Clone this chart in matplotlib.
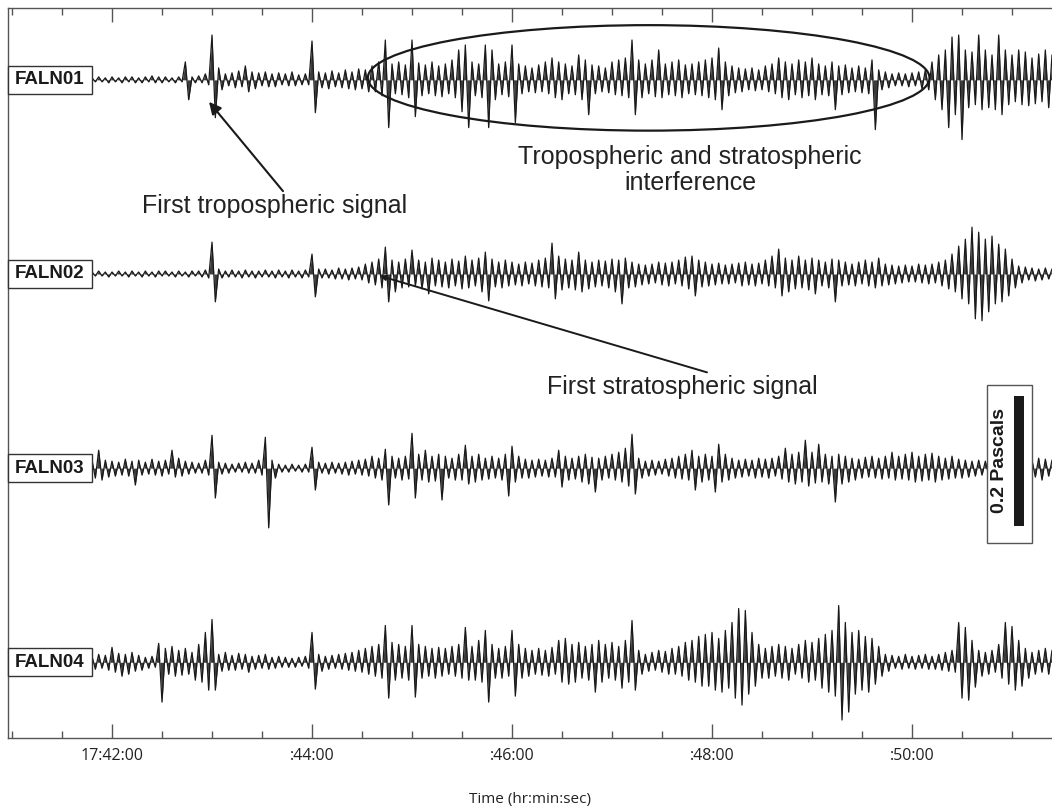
import numpy as np
import matplotlib
matplotlib.use('Agg')
import matplotlib.pyplot as plt
from matplotlib.patches import Rectangle, Ellipse
from matplotlib.ticker import MultipleLocator, FixedLocator, FixedFormatter
from matplotlib.transforms import blended_transform_factory
############################################
plt.rcParams['font.family'] = ['Liberation Sans', 'DejaVu Sans']
TRACE_COLOR = '#1a1a1a'
AXIS_COLOR = '#555555'
############################################

# time axis: seconds after 17:42:00, one peak sample every 4 s
T_START = -12
T_STEP = 4
X_MIN, X_MAX = -62.4, 564
TICK_SECONDS = [0, 120, 240, 360, 480]
TICK_LABELS = ['17:42:00', ':44:00', ':46:00', ':48:00', ':50:00']

# calibration: 130 counts = 0.2 Pa
PA_PER_COUNT = 0.2 / 130
STATIONS = ['FALN01', 'FALN02', 'FALN03', 'FALN04']
OFFSETS = [0.0, -0.3, -0.6, -0.9]   # Pa

# peak excursions (counts) above / below the trace baseline
faln01_up = [2, 3, 2, 3, 2, 3, 3, 2, 3, 4, 3, 3, 2, 3,
             18, 3, 4, 6, 45,
             12, 6, 7, 9, 14, 8, 7, 8, 6, 7, 6, 8, 5, 6,
             39,
             8, 7, 9, 7, 10, 8, 11, 10, 14, 18,
             40, 16, 18, 15, 40, 17, 15, 18, 14, 16, 20,
             30, 35, 18, 16, 35, 30, 16, 18, 35, 16, 14,
             12, 15, 18, 22, 18, 16, 14, 25, 20, 15, 14,
             12, 18, 20, 22, 40, 20, 16, 20, 30, 16, 18,
             20, 15, 16, 18, 20, 22, 32, 18, 14, 12, 11,
             12, 10, 14, 16, 22, 18, 16, 20, 18, 22, 16,
             14, 18, 14, 15, 12, 14, 12, 20, 10, 8, 6,
             7, 6, 7, 8, 10, 18, 25, 30, 43, 45, 30,
             28, 45, 30, 25, 45, 30, 25, 30, 28, 22, 26, 30, 25]
faln01_dn = [2, 2, 3, 2, 3, 2, 3, 3, 2, 3, 3, 2, 3, 2,
             20, 3, 3, 5, 38,
             10, 6, 8, 7, 12, 9, 6, 7, 7, 5, 6, 6, 5, 5,
             33,
             8, 9, 7, 8, 9, 10, 9, 12, 12, 16,
             48, 14, 15, 18, 37, 16, 14, 16, 17, 14, 18,
             32, 48, 16, 18, 48, 20, 15, 17, 43, 14, 12,
             13, 12, 14, 18, 20, 14, 15, 20, 35, 14, 12,
             13, 15, 16, 18, 35, 18, 14, 17, 18, 15, 16,
             18, 14, 15, 16, 18, 20, 30, 16, 13, 12, 10,
             11, 10, 12, 14, 18, 20, 15, 18, 16, 20, 15,
             16, 30, 15, 13, 12, 13, 14, 50, 10, 8, 6,
             6, 7, 6, 9, 10, 20, 30, 48, 35, 60, 28,
             25, 30, 28, 30, 35, 25, 22, 25, 26, 24, 22, 28, 20]

faln02_up = [2, 3, 2, 2, 3, 2, 3, 2, 3, 2, 3, 3, 2, 3, 2, 3, 3,
             4, 32, 5,
             3, 4, 3, 4, 3, 3, 4, 3, 4, 3, 4, 3, 4,
             20, 5,
             5, 4, 6, 5, 6, 7,
             10, 12, 15,
             27, 14, 12, 15, 24, 14, 12, 16, 14, 12, 15,
             13, 18, 14, 16, 22, 15, 12, 14, 12, 10, 12,
             11, 14, 16, 31, 18, 15, 14, 22, 14, 12, 14,
             13, 15, 14, 16, 12, 10, 9, 10, 12, 11, 12,
             14, 17, 18, 14, 12, 10, 11, 9, 10, 11, 12,
             10, 11, 14, 18, 25, 16, 14, 18, 14, 16, 14,
             12, 15, 14, 12, 10, 12, 14, 12, 16, 10, 9,
             8, 9, 8, 10, 9, 10, 12, 14, 20, 28, 35,
             47, 42, 35, 38, 30, 25, 15, 8, 7, 6, 5, 6, 5]
faln02_dn = [2, 2, 3, 2, 2, 3, 2, 3, 2, 3, 2, 2, 3, 2, 3, 2, 3,
             4, 28, 4,
             3, 3, 4, 3, 4, 3, 3, 4, 3, 4, 3, 4, 3,
             23, 4,
             4, 5, 5, 6, 5, 6,
             9, 11, 14,
             28, 18, 14, 13, 12, 15, 20, 12, 13, 14, 12,
             15, 14, 12, 18, 27, 13, 14, 12, 11, 12, 10,
             12, 13, 14, 25, 16, 14, 16, 18, 15, 13, 12,
             14, 18, 30, 14, 13, 11, 10, 9, 11, 12, 10,
             12, 15, 22, 13, 12, 11, 10, 10, 9, 12, 11,
             12, 10, 12, 14, 22, 18, 15, 14, 16, 20, 12,
             14, 28, 12, 11, 12, 10, 12, 14, 12, 11, 10,
             9, 8, 8, 9, 10, 9, 12, 15, 18, 25, 30,
             45, 47, 38, 30, 28, 22, 14, 9, 6, 7, 6, 5, 5]

faln03_up = [8, 18, 8, 7, 6, 9, 7, 8, 6, 9, 7, 8, 18, 10, 7, 6, 5, 8,
             33,
             6, 5, 4, 5, 6, 5, 8,
             31,
             8, 4, 3, 4, 3, 4,
             21,
             6, 5, 6, 5, 6, 7, 8, 9, 12, 10,
             19, 12, 10, 12, 35, 14, 18, 12, 14, 12, 10,
             14, 23, 12, 14, 10, 12, 10, 14, 22, 12, 9,
             8, 9, 8, 10, 18, 12, 10, 12, 14, 11, 10,
             12, 14, 16, 20, 34, 10, 7, 8, 7, 9, 10,
             12, 14, 18, 12, 14, 12, 24, 14, 10, 8, 9,
             8, 10, 9, 10, 12, 20, 14, 16, 28, 16, 24,
             14, 12, 14, 12, 10, 9, 11, 12, 10, 12, 16,
             12, 14, 16, 12, 14, 15, 12, 10, 12, 9, 8,
             7, 8, 7, 8, 7, 8, 7, 8, 7, 8, 10, 9, 8]
faln03_dn = [10, 12, 9, 8, 7, 8, 17, 7, 6, 7, 8, 6, 9, 8, 6, 5, 5, 7,
             30,
             6, 5, 4, 4, 5, 5, 7,
             60,
             10, 4, 4, 3, 4, 4,
             22,
             5, 6, 5, 6, 7, 6, 7, 8, 10, 12,
             37, 10, 12, 11, 30, 12, 14, 13, 32, 10, 12,
             12, 16, 14, 12, 11, 10, 12, 28, 14, 10, 10,
             9, 8, 9, 9, 19, 12, 11, 14, 16, 24, 12,
             10, 12, 14, 18, 26, 10, 8, 7, 6, 8, 10,
             11, 12, 22, 14, 12, 24, 14, 12, 10, 9, 8,
             10, 9, 10, 8, 11, 14, 16, 14, 18, 15, 14,
             16, 34, 16, 14, 12, 10, 9, 10, 11, 10, 12,
             11, 12, 14, 13, 12, 14, 12, 11, 10, 10, 9,
             8, 7, 7, 7, 8, 7, 8, 7, 8, 9, 12, 8, 7]

faln04_up = [6, 8, 7, 15, 9, 8, 10, 7, 5, 6,
             19, 14, 16, 12, 14, 10, 18, 30, 43,
             8, 10, 7, 9, 8, 6, 7, 8, 5, 6, 5, 4, 5, 6,
             30,
             8, 6, 7, 8, 9, 10, 12, 14, 16, 18,
             37, 20, 18, 16, 37, 18, 16, 14, 15, 14, 16,
             18, 35, 16, 22, 32, 18, 14, 16, 32, 18, 14,
             12, 14, 12, 15, 22, 24, 18, 20, 16, 18, 22,
             18, 20, 16, 22, 42, 12, 8, 10, 12, 11, 14,
             16, 20, 22, 26, 28, 30, 24, 32, 40, 54, 52,
             30, 18, 14, 16, 18, 16, 14, 18, 22, 20, 24,
             28, 32, 57, 40, 30, 32, 26, 24, 16, 8, 7,
             6, 8, 6, 7, 8, 6, 8, 10, 12, 40, 35,
             22, 12, 10, 12, 18, 40, 36, 22, 14, 10, 12, 14, 12]
faln04_dn = [7, 6, 8, 10, 14, 12, 9, 8, 6, 5,
             40, 12, 14, 13, 12, 18, 20, 28, 28,
             9, 8, 8, 7, 10, 7, 6, 7, 6, 5, 5, 5, 4, 6,
             27,
             9, 7, 6, 7, 8, 9, 10, 12, 14, 16,
             36, 18, 16, 18, 35, 16, 14, 16, 14, 12, 14,
             16, 18, 18, 20, 40, 16, 16, 14, 34, 16, 14,
             12, 13, 14, 12, 20, 22, 20, 16, 18, 30, 20,
             16, 18, 26, 20, 28, 12, 9, 8, 10, 12, 12,
             14, 18, 20, 24, 24, 28, 30, 26, 36, 43, 32,
             24, 16, 16, 14, 16, 18, 12, 16, 20, 18, 26,
             30, 34, 58, 50, 32, 28, 30, 22, 14, 9, 6,
             7, 6, 7, 6, 7, 7, 8, 9, 10, 36, 38,
             25, 14, 12, 10, 16, 22, 28, 24, 16, 12, 10, 12, 10]

traces_up = [faln01_up, faln02_up, faln03_up, faln04_up]
traces_dn = [faln01_dn, faln02_dn, faln03_dn, faln04_dn]

# 그래프 설정
fig = plt.figure(figsize=(10.52, 8.08), dpi=100)
ax = fig.add_axes([8 / 1052, 1 - 738 / 808, 1 - 8 / 1052, 730 / 808])

for up, dn, off in zip(traces_up, traces_dn, OFFSETS):
    up = np.asarray(up, float)
    dn = np.asarray(dn, float)
    t = T_START + T_STEP * np.arange(len(up))
    xs = np.column_stack([t, t + T_STEP / 2]).ravel()
    ys = np.column_stack([up, -dn]).ravel() * PA_PER_COUNT + off
    ax.fill_between(xs, ys, off, color=TRACE_COLOR, alpha=0.85, lw=0, zorder=2)
    ax.plot(xs, ys, color=TRACE_COLOR, lw=0.9, zorder=2)

ax.set_xlim(X_MIN, X_MAX)
ax.set_ylim(-1.017, 0.111)

# station labels
trans = blended_transform_factory(ax.transAxes, ax.transData)
box_w = 84 / 1044
box_h = 28 / 650
for name, off in zip(STATIONS, OFFSETS):
    ax.add_patch(Rectangle((0, off - box_h / 2), box_w, box_h, transform=trans,
                           facecolor='white', edgecolor='#333333', lw=1,
                           zorder=5, clip_on=False))
    ax.text(box_w / 2, off, name, transform=trans, ha='center', va='center',
            fontsize=13.5, fontweight='bold', color='#1a1a1a', zorder=6)

# axes styling
for side in ['top', 'bottom', 'left']:
    ax.spines[side].set_color(AXIS_COLOR)
    ax.spines[side].set_linewidth(1.0)
ax.spines['right'].set_visible(False)
ax.set_yticks([])
ax.xaxis.set_major_locator(FixedLocator(TICK_SECONDS))
ax.xaxis.set_major_formatter(FixedFormatter(TICK_LABELS))
ax.xaxis.set_minor_locator(MultipleLocator(30))
ax.tick_params(axis='x', which='both', direction='in', top=True, bottom=True,
               color=AXIS_COLOR, width=1)
ax.tick_params(axis='x', which='major', length=10, pad=7)
ax.tick_params(axis='x', which='minor', length=5)
for lbl in ax.get_xticklabels():
    lbl.set_family('Open Sans')
    lbl.set_fontsize(11.5)
    lbl.set_color('#222222')
ax.set_xlabel('Time (hr:min:sec)', family='Open Sans', fontsize=11,
              color='#222222', labelpad=20)

# annotations
ax.add_patch(Ellipse((322, 0.003), 337, 0.163, fill=False,
                     edgecolor='#1a1a1a', lw=1.6, zorder=3))
ax.text(346.8, -0.14, 'Tropospheric and stratospheric\ninterference',
        ha='center', va='center', fontsize=18, linespacing=1.1, color='#222222')
ax.annotate('', xy=(58.2, -0.034), xytext=(102.6, -0.172),
            arrowprops=dict(arrowstyle='-|>', color='#1a1a1a', lw=1.5,
                            mutation_scale=18, shrinkA=0, shrinkB=0))
ax.text(97.8, -0.195, 'First tropospheric signal', ha='center', va='center',
        fontsize=18, color='#222222')
ax.annotate('', xy=(160.8, -0.303), xytext=(357, -0.452),
            arrowprops=dict(arrowstyle='-|>', color='#1a1a1a', lw=1.4,
                            mutation_scale=8, shrinkA=0, shrinkB=0))
ax.text(342, -0.474, 'First stratospheric signal', ha='center', va='center',
        fontsize=18, color='#222222')

# scale bar
ax.add_patch(Rectangle((525, -0.7154), 27, 0.2446, facecolor='white',
                       edgecolor='#555555', lw=1, zorder=5))
ax.add_patch(Rectangle((541.2, -0.689), 6, 0.2, facecolor='#1a1a1a',
                       edgecolor='none', zorder=6))
ax.text(532.8, -0.588, '0.2 Pascals', rotation=90, ha='center', va='center',
        fontsize=14, fontweight='bold', color='#1a1a1a', zorder=6)

fig.savefig('out.png', dpi=100)
